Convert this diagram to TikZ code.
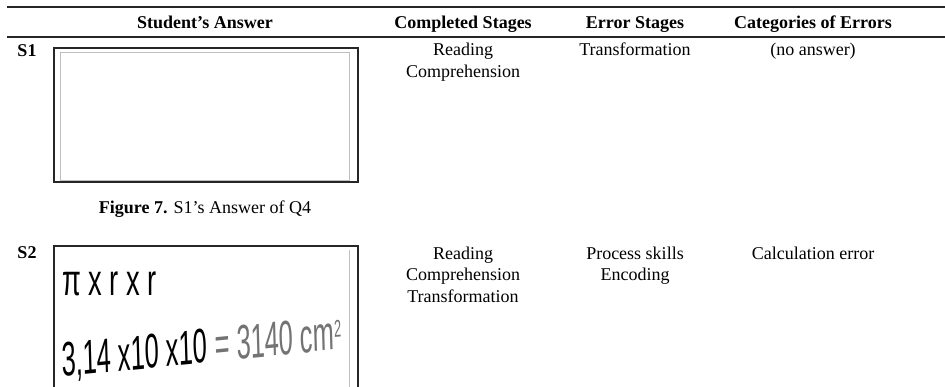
\documentclass[tikz,border=0pt]{standalone}
\usepackage{fontspec}
\setmainfont{Liberation Serif}
\newfontfamily\handfont{Liberation Sans}
\begin{document}
\begin{tikzpicture}[x=1pt,y=-1pt,
  txt/.style={anchor=base,inner sep=0pt,font=\fontsize{18}{22}\selectfont},
  hdr/.style={txt,font=\fontsize{18}{22}\selectfont\bfseries},
  rulel/.style={line width=1.4pt,black!85},
  answerbox/.style={line width=1.4pt,black!85},
  innerline/.style={line width=0.6pt,black!25},
  hand/.style={anchor=base west,inner sep=0pt,font=\handfont\fontsize{44}{44}\selectfont}]
\useasboundingbox (0,0) rectangle (945,387);
% rules
\coordinate (r1a) at (7,7); \coordinate (r1b) at (945,7);
\coordinate (r2a) at (7,37); \coordinate (r2b) at (945,37);
\draw[rulel] (r1a) -- (r1b);
\draw[rulel] (r2a) -- (r2b);
% headers
\node[hdr] (h1) at (205,29) {Student’s Answer};
\node[hdr] (h2) at (463,29) {Completed Stages};
\node[hdr] (h3) at (635,29) {Error Stages};
\node[hdr] (h4) at (813,29) {Categories of Errors};
% row S1
\node[hdr] (s1) at (27,57) {S1};
\draw[answerbox] (54,48) rectangle (358,182);
\draw[innerline] (60,52) rectangle (349,180);
\node[txt] (c1a) at (205,214) {\textbf{Figure 7.} S1’s Answer of Q4};
\node[txt] (r1c1) at (463,56) {Reading};
\node[txt] (r1c2) at (463,78) {Comprehension};
\node[txt] (r1e1) at (635,56) {Transformation};
\node[txt] (r1k1) at (813,56) {(no answer)};
% row S2
\node[hdr] (s2) at (27,259) {S2};
\draw[answerbox] (54,390) -- (54,246) -- (358,246) -- (358,390);
\draw[innerline] (349,250) -- (349,390);
\node[hand,xscale=0.62] (hw1) at (62,296) {π x r x r};
\node[hand,xscale=0.58,yscale=1.1,rotate=3] (hw2) at (62,377) {3,14 x10 x10 \textcolor{black!55}{= 3140 cm\raisebox{0.5ex}{\fontsize{22}{22}\selectfont 2}}};
\node[txt] (r2c1) at (463,260) {Reading};
\node[txt] (r2c2) at (463,281) {Comprehension};
\node[txt] (r2c3) at (463,303) {Transformation};
\node[txt] (r2e1) at (635,260) {Process skills};
\node[txt] (r2e2) at (635,281) {Encoding};
\node[txt] (r2k1) at (813,260) {Calculation error};
\end{tikzpicture}
\end{document}
